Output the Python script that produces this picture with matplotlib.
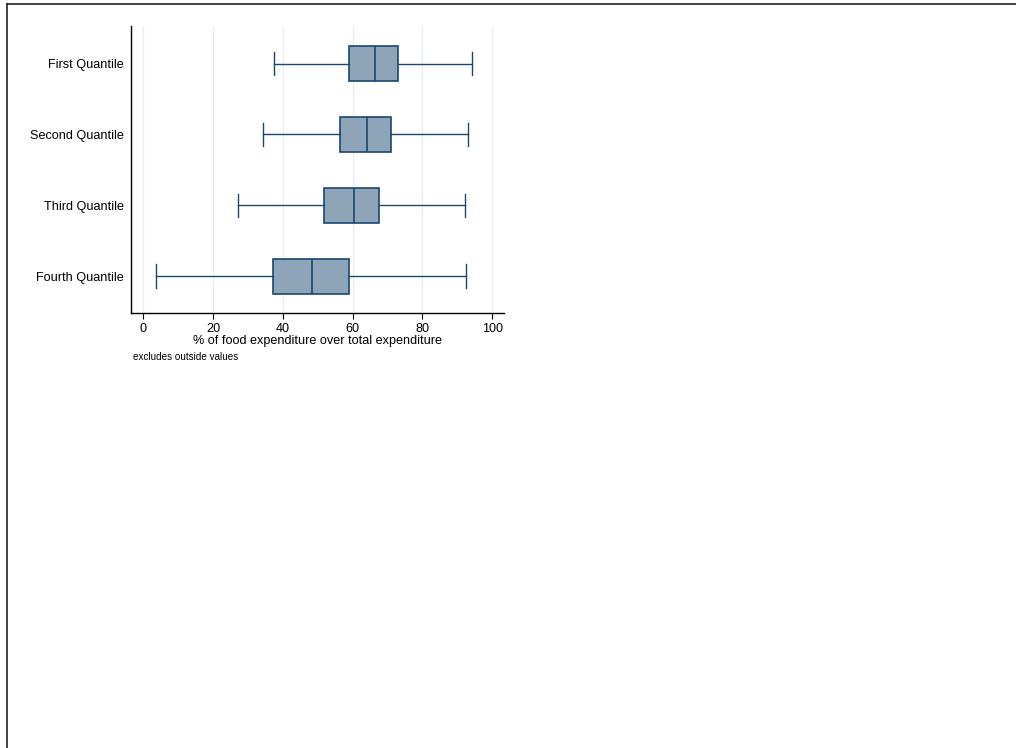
import matplotlib
matplotlib.use("Agg")
import matplotlib.pyplot as plt
from matplotlib.lines import Line2D

plt.rcParams["font.family"] = ["Liberation Sans", "DejaVu Sans"]

# data
groups = ["First Quantile", "Second Quantile", "Third Quantile", "Fourth Quantile"]
whisker_low = [37.5, 34.3, 27.2, 3.8]
q1 = [58.9, 56.4, 51.7, 37.2]
median = [66.4, 64.2, 60.3, 48.3]
q3 = [72.9, 71.1, 67.7, 59.1]
whisker_high = [94.3, 93.2, 92.2, 92.4]
xticks = [0, 20, 40, 60, 80, 100]

navy = "#1a476f"
fill = "#8ea4b9"

fig = plt.figure(figsize=(10.16, 7.48), dpi=100)
ax = fig.add_axes([0.1286, 0.5815, 0.3675, 0.3837])

stats = []
for i, name in enumerate(groups):
    stats.append({
        "label": name,
        "whislo": whisker_low[i],
        "q1": q1[i],
        "med": median[i],
        "q3": q3[i],
        "whishi": whisker_high[i],
        "fliers": [],
    })

positions = list(range(1, len(groups) + 1))
ax.bxp(
    stats,
    positions=positions,
    orientation="horizontal",
    widths=0.49,
    patch_artist=True,
    showfliers=False,
    boxprops=dict(facecolor=fill, edgecolor=navy, linewidth=1.2),
    medianprops=dict(color=navy, linewidth=1.2),
    whiskerprops=dict(color=navy, linewidth=1.0),
    capprops=dict(color=navy, linewidth=1.0),
    capwidths=0.33,
    zorder=3,
)

ax.set_ylim(4.52, 0.47)
ax.set_xlim(-3.6, 103.4)
ax.set_xticks(xticks)
ax.set_yticks(positions)
ax.set_yticklabels(groups)
ax.tick_params(axis="y", length=0, pad=5, labelsize=9.1)
ax.tick_params(axis="x", length=4, width=0.8, pad=3, labelsize=9.1)
ax.xaxis.grid(True, color="#e6eef1", linewidth=0.9, zorder=0)
ax.set_axisbelow(True)
for s in ["top", "right"]:
    ax.spines[s].set_visible(False)
for s in ["left", "bottom"]:
    ax.spines[s].set_linewidth(1.0)
    ax.spines[s].set_color("black")

# axis title sits tight under the tick labels, as in the original
fig.text(317.5 / 1016, 1 - 341 / 748, "% of food expenditure over total expenditure",
         fontsize=9.1, ha="center", va="center")
fig.text(133 / 1016, 1 - 357 / 748, "excludes outside values", fontsize=7.1,
         va="center", ha="left")

# outer frame (cropped from a larger export)
fig.add_artist(Line2D([7 / 1016, 7 / 1016], [0, 1 - 4 / 748], transform=fig.transFigure,
                      color="#222222", linewidth=1.2))
fig.add_artist(Line2D([7 / 1016, 1], [1 - 4 / 748, 1 - 4 / 748], transform=fig.transFigure,
                      color="#222222", linewidth=1.2))

fig.savefig("out.png", dpi=100, facecolor="white")
